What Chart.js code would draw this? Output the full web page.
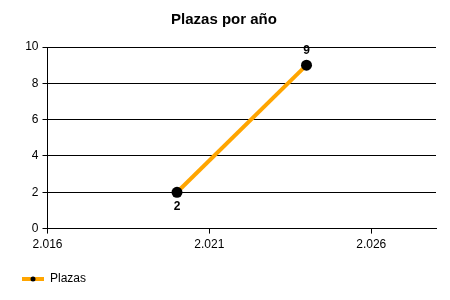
<!DOCTYPE html>
<html>
<head>
<meta charset="utf-8">
<script src="https://cdn.jsdelivr.net/npm/chart.js@4/dist/chart.umd.min.js"></script>
<style>
  html, body { margin: 0; padding: 0; background: #fff; }
  #wrap { width: 450px; height: 300px; }
</style>
</head>
<body>
<div id="wrap"><canvas id="chart"></canvas></div>
<script>
// data
const years = [2020, 2024];
const plazas = [2, 9];
const xTicks = [2016, 2021, 2026];
const yTicks = [0, 2, 4, 6, 8, 10];

const ORANGE = '#FFA500';

// thousand separator like "2.016"
function fmt(v) {
  return String(v).replace(/\B(?=(\d{3})+(?!\d))/g, '.');
}

// little legend symbol: orange line + black dot
const sym = document.createElement('canvas');
sym.width = 22; sym.height = 10;
(function () {
  const c = sym.getContext('2d');
  c.fillStyle = ORANGE;
  c.fillRect(0, 3, 22, 4);
  c.fillStyle = '#000';
  c.beginPath(); c.arc(11, 5, 2.5, 0, Math.PI * 2); c.fill();
})();

// value labels (2 below, 9 above)
const valueLabels = {
  id: 'valueLabels',
  afterDatasetsDraw(chart) {
    const ctx = chart.ctx;
    const meta = chart.getDatasetMeta(0);
    ctx.save();
    ctx.font = 'bold 12px "Liberation Sans", Arial, sans-serif';
    ctx.fillStyle = '#000';
    ctx.textAlign = 'center';
    meta.data.forEach((pt, i) => {
      const v = plazas[i];
      const below = i === 0;
      ctx.textBaseline = below ? 'top' : 'bottom';
      ctx.fillText(String(v), pt.x, below ? pt.y + 8 : pt.y - 8);
    });
    ctx.restore();
  }
};

Chart.defaults.font.family = '"Liberation Sans", Arial, sans-serif';
Chart.defaults.font.size = 12;
Chart.defaults.color = '#000';

const ctx = document.getElementById('chart').getContext('2d');
const myChart = new Chart(ctx, {
  type: 'line',
  data: {
    datasets: [{
      label: 'Plazas',
      data: years.map((y, i) => ({ x: y, y: plazas[i] })),
      borderColor: ORANGE,
      backgroundColor: '#000',
      borderWidth: 4,
      pointRadius: 5.5,
      pointHoverRadius: 5.5,
      pointBackgroundColor: '#000',
      pointBorderWidth: 0,
      tension: 0
    }]
  },
  options: {
    responsive: true,
    maintainAspectRatio: false,
    animation: false,
    layout: { padding: { left: 12, right: 14, top: 0, bottom: 5 } },
    plugins: {
      title: {
        display: true,
        text: 'Plazas por año',
        color: '#000',
        font: { size: 15, weight: 'bold' },
        padding: { top: 11, bottom: 18 }
      },
      legend: {
        position: 'bottom',
        align: 'start',
        labels: {
          usePointStyle: true,
          pointStyle: sym,
          pointStyleWidth: 22,
          color: '#000',
          padding: 10,
          font: { size: 12 }
        }
      },
      tooltip: { enabled: false }
    },
    scales: {
      x: {
        type: 'linear',
        min: 2016,
        max: 2028,
        afterBuildTicks(scale) {
          scale.ticks = xTicks.map(v => ({ value: v }));
        },
        afterFit(scale) {
          scale.height += 7;
        },
        ticks: {
          color: '#000',
          maxRotation: 0,
          padding: 4,
          callback: v => fmt(v)
        },
        grid: { display: true, drawOnChartArea: false, drawTicks: true, tickLength: 5, color: '#000' },
        border: { display: true, color: '#000', width: 1 }
      },
      y: {
        min: 0,
        max: 10,
        afterBuildTicks(scale) {
          scale.ticks = yTicks.map(v => ({ value: v }));
        },
        afterFit(scale) {
          scale.width = 35.5;
        },
        ticks: { color: '#000', padding: 4 },
        grid: { color: '#000', tickLength: 5 },
        border: { display: true, color: '#000', width: 1 }
      }
    }
  },
  plugins: [valueLabels]
});
</script>
</body>
</html>
